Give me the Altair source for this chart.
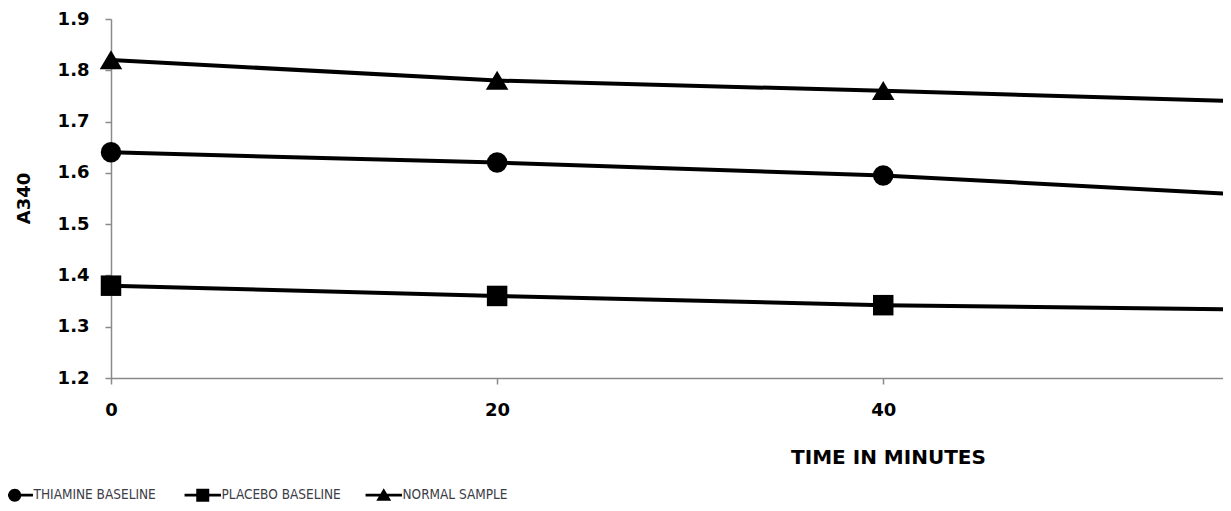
import altair as alt
import pandas as pd

# ---- data ----
time_min = [0, 20, 40, 60]
thiamine = [1.64, 1.62, 1.595, 1.555]
placebo = [1.38, 1.36, 1.342, 1.333]
normal = [1.82, 1.78, 1.76, 1.738]
marker_times = [0, 20, 40]
series_names = ["THIAMINE  BASELINE", "PLACEBO BASELINE", "NORMAL SAMPLE"]
x_ticks = [0, 20, 40]
y_ticks = [1.2, 1.3, 1.4, 1.5, 1.6, 1.7, 1.8, 1.9]

rows = []
for name, vals in zip(series_names, [thiamine, placebo, normal]):
    for t, v in zip(time_min, vals):
        rows.append({"time": t, "value": v, "series": name})
df = pd.DataFrame(rows)

x_scale = alt.Scale(domain=[0, 57.6], nice=False, zero=False)
y_scale = alt.Scale(domain=[1.2, 1.9], nice=False, zero=False)

x_enc = alt.X("time:Q", scale=x_scale,
              axis=alt.Axis(values=x_ticks, title="TIME IN MINUTES", grid=False,
                            labelFont="DejaVu Sans", labelFontWeight="bold", labelFontSize=18,
                            labelColor="black", labelPadding=17, labelFlush=False,
                            domainColor="#8a8a8a", domainWidth=1.5, tickColor="#8a8a8a",
                            tickWidth=1.5, tickSize=6,
                            titleFont="DejaVu Sans", titleFontWeight="bold", titleFontSize=20,
                            titleColor="black", titleX=777, titleY=79, titleAlign="center",
                            titleBaseline="middle", titleAngle=0))
y_enc = alt.Y("value:Q", scale=y_scale,
              axis=alt.Axis(values=y_ticks, format=".1f", title="A340", grid=False,
                            labelFont="DejaVu Sans", labelFontWeight="bold", labelFontSize=18,
                            labelColor="black", labelPadding=16, labelFlush=False,
                            domainColor="#8a8a8a", domainWidth=1.5, tickColor="#8a8a8a",
                            tickWidth=1.5, tickSize=6,
                            titleFont="DejaVu Sans", titleFontWeight="bold", titleFontSize=18,
                            titleColor="black", titleX=-87, titleY=179, titleAlign="center",
                            titleBaseline="middle", titleAngle=270))

lines = alt.Chart(df).mark_line(color="black", strokeWidth=4, clip=True).encode(
    x=x_enc, y=y_enc, detail="series:N"
)

plain_shapes = ["circle", "square", "M0,-0.95L1.1,0.9L-1.1,0.9Z"]
points = alt.Chart(df).transform_filter(
    alt.FieldOneOfPredicate(field="time", oneOf=marker_times)
).mark_point(filled=True, color="black", size=420, opacity=1).encode(
    x="time:Q", y="value:Q",
    shape=alt.Shape("series:N", scale=alt.Scale(domain=series_names, range=plain_shapes), legend=None),
)

bar = "M-2.8,-0.23H2.8V0.23H-2.8Z"
legend_shapes = [
    bar + "M1,0A1,1,0,1,1,-1,0A1,1,0,1,1,1,0Z",
    bar + "M-1,-1H1V1H-1Z",
    bar + "M0,-1.05L1.15,0.85L-1.15,0.85Z",
]
legend_layer = alt.Chart(df).transform_filter("false").mark_point(
    filled=True, color="black", size=169, opacity=1
).encode(
    x="time:Q", y="value:Q",
    shape=alt.Shape("series:N", scale=alt.Scale(domain=series_names, range=legend_shapes),
                    legend=alt.Legend(title=None, orient="none", direction="horizontal",
                                      legendX=-113, legendY=469, padding=0,
                                      symbolSize=169, symbolOffset=10, labelOffset=12,
                                      symbolStrokeWidth=0, symbolFillColor="black",
                                      symbolOpacity=1,
                                      labelFont="DejaVu Sans Condensed, Liberation Sans",
                                      labelFontSize=13.5,
                                      labelColor="#3c3c46", columnPadding=24,
                                      labelLimit=400)),
)

chart = alt.layer(lines, points, legend_layer).resolve_scale(shape="independent").properties(
    width=1112, height=359,
    autosize=alt.AutoSizeParams(type="none"),
    padding={"left": 103, "top": 11, "right": 0, "bottom": 125},
).configure_view(stroke=None)

chart.save("out.html", embed_options={"renderer": "svg", "actions": False})
